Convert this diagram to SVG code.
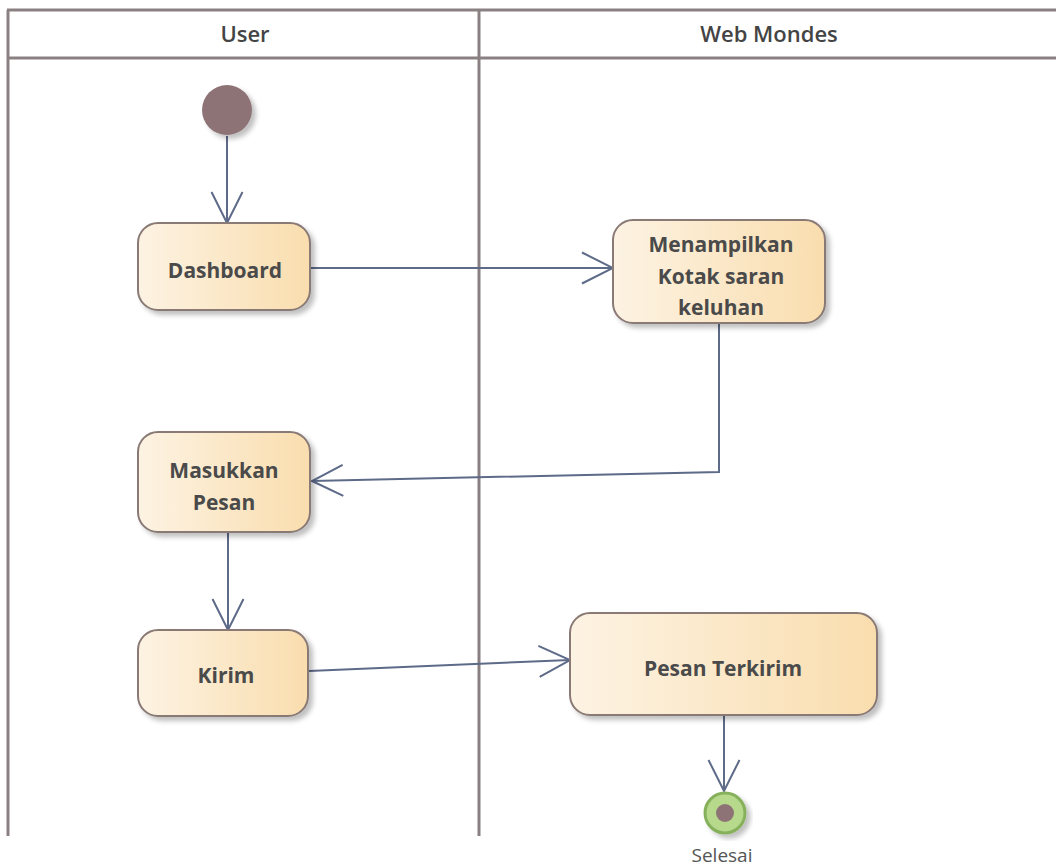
<svg xmlns="http://www.w3.org/2000/svg" width="1056" height="866" viewBox="0 0 1056 866">
<defs>
  <linearGradient id="nodeFill" x1="0" y1="0" x2="1" y2="0">
    <stop offset="0" stop-color="#fdf3e3"/>
    <stop offset="1" stop-color="#f9ddae"/>
  </linearGradient>
  <filter id="shadow" x="-10%" y="-10%" width="130%" height="130%">
    <feGaussianBlur in="SourceAlpha" stdDeviation="2.5"/>
    <feOffset dx="4" dy="4" result="b"/>
    <feComponentTransfer><feFuncA type="linear" slope="0.25"/></feComponentTransfer>
    <feMerge><feMergeNode/><feMergeNode in="SourceGraphic"/></feMerge>
  </filter>
  <marker id="open" viewBox="0 0 34 34" refX="32" refY="17" markerWidth="34" markerHeight="34" markerUnits="userSpaceOnUse" orient="auto">
    <path d="M1,1.5 L32,17 L1,32.5" fill="none" stroke="#5d6a88" stroke-width="2"/>
  </marker>
</defs>
<style>
  .lane { stroke: #8a8082; stroke-width: 3; fill: none; }
  .hdr { font-family: "Open Sans", "Liberation Sans", sans-serif; font-weight: 600; font-size: 22px; fill: #444; text-anchor: middle; }
  .node rect { fill: url(#nodeFill); stroke: #8a7a76; stroke-width: 2; }
  .lbl { font-family: "Open Sans", "Noto Sans", "Liberation Sans", sans-serif; font-weight: bold; font-size: 21px; fill: #4a4a4a; text-anchor: middle; }
  .conn { stroke: #5d6a88; stroke-width: 2; fill: none; marker-end: url(#open); }
</style>
<rect width="1056" height="866" fill="#ffffff"/>
<g id="lanes">
  <line class="lane" x1="7" y1="10" x2="1056" y2="10"/>
  <line class="lane" x1="7" y1="58" x2="1056" y2="58"/>
  <line class="lane" x1="8" y1="10" x2="8" y2="836"/>
  <line class="lane" x1="479" y1="10" x2="479" y2="836"/>
  <text class="hdr" x="245" y="42">User</text>
  <text class="hdr" x="769" y="42">Web Mondes</text>
</g>
<g id="connectors">
  <line class="conn" x1="227" y1="136" x2="227" y2="223"/>
  <line class="conn" x1="311" y1="268" x2="613" y2="268"/>
  <polyline class="conn" points="719,324 719,472 312,481"/>
  <line class="conn" x1="228" y1="533" x2="228" y2="630"/>
  <line class="conn" x1="309" y1="671" x2="570" y2="660"/>
  <line class="conn" x1="724" y1="716" x2="724" y2="791"/>
</g>
<g id="start">
  <circle cx="227" cy="110" r="25" fill="#8e7376" filter="url(#shadow)"/>
</g>
<g id="dashboard" class="node">
  <rect x="138" y="223" width="172" height="87" rx="20" filter="url(#shadow)"/>
  <text class="lbl" x="225" y="278">Dashboard</text>
</g>
<g id="menampilkan" class="node">
  <rect x="613" y="220" width="212" height="103" rx="20" filter="url(#shadow)"/>
  <text class="lbl" x="721" y="252">Menampilkan</text>
  <text class="lbl" x="721" y="284">Kotak saran</text>
  <text class="lbl" x="721" y="315">keluhan</text>
</g>
<g id="masukkan" class="node">
  <rect x="138" y="432" width="172" height="100" rx="20" filter="url(#shadow)"/>
  <text class="lbl" x="224" y="478">Masukkan</text>
  <text class="lbl" x="224" y="510">Pesan</text>
</g>
<g id="kirim" class="node">
  <rect x="138" y="630" width="170" height="86" rx="20" filter="url(#shadow)"/>
  <text class="lbl" x="226" y="683">Kirim</text>
</g>
<g id="pesanTerkirim" class="node">
  <rect x="570" y="613" width="307" height="102" rx="20" filter="url(#shadow)"/>
  <text class="lbl" x="723" y="676">Pesan Terkirim</text>
</g>
<g id="selesai">
  <circle cx="725" cy="813" r="20" fill="#b6d98c" stroke="#86b05c" stroke-width="3" filter="url(#shadow)"/>
  <circle cx="725" cy="813" r="9" fill="#8e7376"/>
  <text x="722" y="862" font-family="Open Sans, Liberation Sans, sans-serif" font-size="19" fill="#555" text-anchor="middle">Selesai</text>
</g>
</svg>
